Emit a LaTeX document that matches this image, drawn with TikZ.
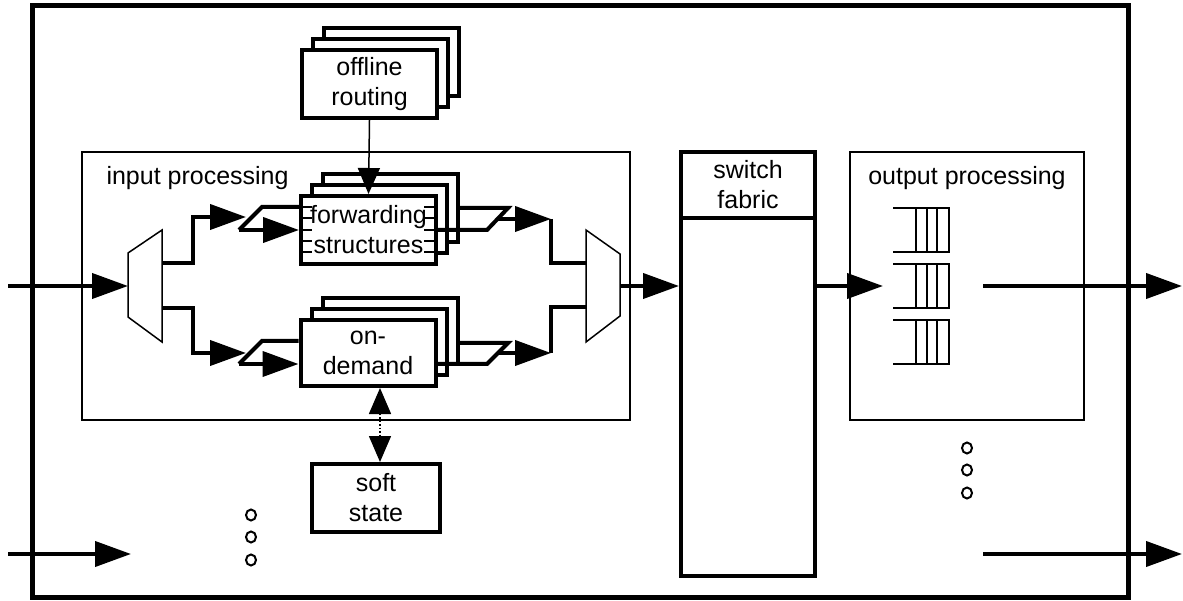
\documentclass[tikz,border=0pt]{standalone}
\usepackage{fontspec}
\setmainfont{Liberation Sans}
\usetikzlibrary{arrows.meta,shadows}

\tikzset{
  thinline/.style={line width=1.5pt},
  wire/.style={line width=4pt},
  panel/.style={draw,line width=1.5pt,inner sep=0pt},
  box/.style={draw,fill=white,line width=4pt,minimum width=128pt,minimum height=68pt,inner sep=0pt,align=center},
  stackbox/.style={box,minimum width=135pt,double copy shadow={shadow xshift=11pt,shadow yshift=11pt}},
  smalltip/.style={-{Triangle[length=26pt,width=22pt]}},
}

\begin{document}
\begin{tikzpicture}[x=1pt,y=-1pt,>={Triangle[length=36pt,width=25pt]},font=\fontsize{25}{30}\selectfont]
\useasboundingbox (0,0) rectangle (1183,601);
\draw[line width=5pt] (32,6) rectangle (1128,597);

% processing panels
\node[panel,minimum width=548pt,minimum height=268pt] (inproc) at (356,286) {};
\node[panel,minimum width=234pt,minimum height=268pt] (outproc) at (967,286) {};
\node[anchor=west] (inlabel) at (103,178) {input processing};
\node (outlabel) at (967,178) {output processing};

% stacked boxes
\node[stackbox] (offline) at (369.5,84) {offline\\routing};
\node[stackbox] (fwd) at (368.5,230) {forwarding\\structures};
\node[stackbox,minimum height=66pt] (ondemand) at (368,353) {on-\\demand};
\node[box] (soft) at (376,498) {soft\\state};
\foreach \y in {207,218,230,241,252} {
  \draw[line width=2.5pt] (303,\y) -- (312,\y);
  \draw[line width=2.5pt] (424,\y) -- (434,\y);
}

% switch fabric
\node[draw,line width=4pt,minimum width=134pt,minimum height=424pt] (fabric) at (748,364) {};
\draw[line width=4pt] (fabric.west |- 0,218) -- (fabric.east |- 0,218);
\node[align=center] (fabriclabel) at (748,185) {switch\\fabric};

% demux and mux
\draw[thinline] (128,253) -- (162,230) -- (162,342) -- (128,317) -- cycle;
\draw[thinline] (586,230) -- (620,254) -- (620,316) -- (586,342) -- cycle;
\coordinate (demuxin) at (128,286);
\coordinate (demuxa) at (162,263);
\coordinate (demuxb) at (162,308);
\coordinate (muxa) at (587,263);
\coordinate (muxb) at (587,307);
\coordinate (muxout) at (620,286);
\coordinate (pa) at (246,217);
\coordinate (pb) at (246,353);
\coordinate (ra) at (551,219);
\coordinate (rb) at (551,353);

% ports
\coordinate (in1) at (8,286);
\coordinate (in2) at (8,554);
\coordinate (in2end) at (131,554);
\coordinate (qin) at (883,286);
\coordinate (qout) at (983,286);
\coordinate (qout2) at (983,554);
\coordinate (out1) at (1182,286);
\coordinate (out2) at (1182,554);

% input side
\draw[wire,->] (in1) -- (demuxin);
\draw[wire,->] (demuxa) -- ++(31,0) |- (pa);
\draw[wire,->] (demuxb) -- ++(31,0) |- (pb);
\draw[wire] (fwd.west |- 0,207) -- (262,207) -- (239,230) coordinate (pal);
\draw[wire,->] (pal) -- (fwd.west |- pal);
\draw[wire] (ondemand.west |- 0,341) -- (262,341) -- (239,364) coordinate (pbl);
\draw[wire,->] (pbl) -- (ondemand.west |- pbl);

% output side
\draw[wire] (fwd.east |- 0,230) -- (487,230) -- (508,208) -- (459,208);
\draw[wire] (ondemand.east |- 0,364) -- (487,364) -- (508,343) -- (459,343);
\draw[wire,->] (497,219) -- (ra);
\draw[wire,->] (497,353) -- (rb);
\draw[wire] (ra) |- (muxa);
\draw[wire] (rb) |- (muxb);
\draw[wire,->] (muxout) -- (fabric.west |- muxout);
\draw[wire,->] (fabric.east |- qin) -- (qin);
\draw[wire,->] (qout) -- (out1);
\draw[wire,->] (in2) -- (in2end);
\draw[wire,->] (qout2) -- (out2);

% state links
\draw[thinline,smalltip] (offline.south) -- (fwd.north);
\draw[thinline,dotted,{Triangle[length=26pt,width=22pt]}-{Triangle[length=26pt,width=22pt]}] (ondemand.south -| 380,0) -- (soft.north -| 380,0);

% queues
\foreach \q in {208,264,320} {
  \draw[thinline] (893,\q) -- (950,\q) (893,\q+44) -- (950,\q+44);
  \foreach \x in {916,927,937,949}
    \draw[thinline] (\x,\q) -- (\x,\q+44);
}

% more ports
\foreach \y in {448,470,493}
  \draw[line width=2pt] (967,\y) circle[x radius=5pt,y radius=5.5pt];
\foreach \y in {515,537,560}
  \draw[line width=2pt] (251,\y) circle[x radius=5pt,y radius=5.5pt];
\end{tikzpicture}
\end{document}
